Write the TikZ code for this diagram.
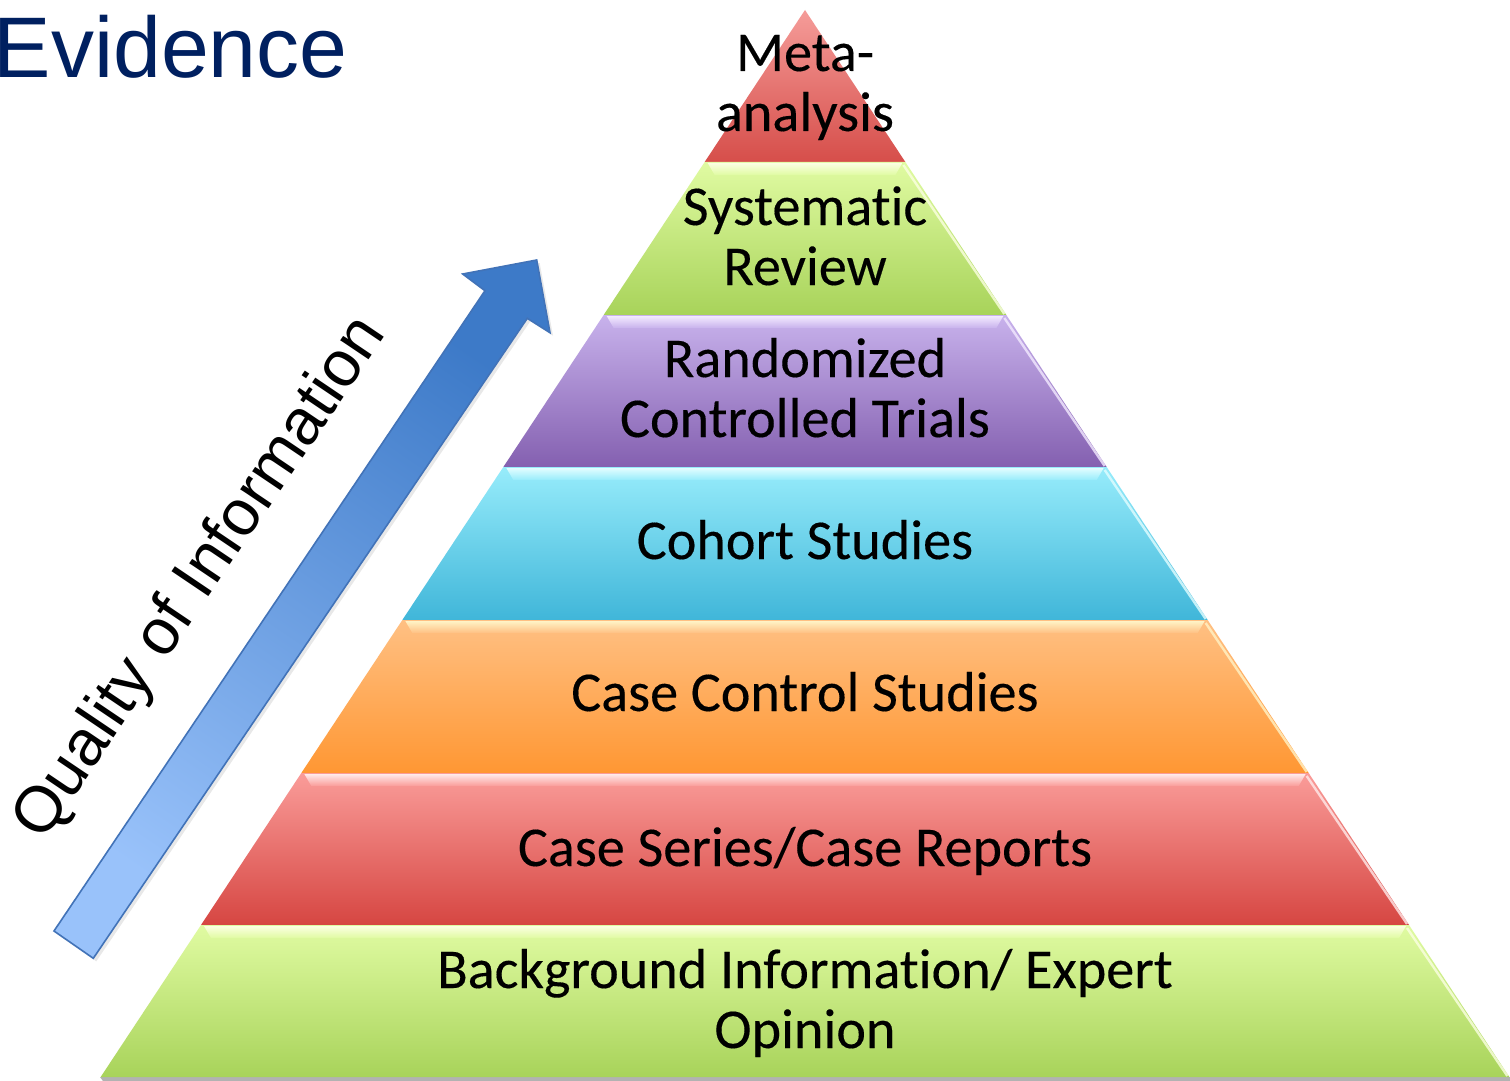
\documentclass[tikz,border=0pt]{standalone}
\usepackage{fontspec}
\setmainfont{Carlito}[Ligatures=CommonOff,FakeBold=0.25]
\newfontfamily\arialf{Liberation Sans}
\usetikzlibrary{shadows}
\definecolor{evblue}{HTML}{002060}
\definecolor{metaT}{HTML}{F59C99}
\definecolor{metaB}{HTML}{D64E4A}
\definecolor{grnT}{HTML}{E0FBA2}
\definecolor{grnB}{HTML}{A8D35A}
\definecolor{grnH}{HTML}{FBFFE2}
\definecolor{purT}{HTML}{C8B2EC}
\definecolor{purB}{HTML}{8460B0}
\definecolor{purH}{HTML}{F3EAFF}
\definecolor{cyaT}{HTML}{97ECFB}
\definecolor{cyaB}{HTML}{40B6D9}
\definecolor{cyaH}{HTML}{E2FDFF}
\definecolor{oraT}{HTML}{FFC083}
\definecolor{oraB}{HTML}{FF9733}
\definecolor{oraH}{HTML}{FFF3C6}
\definecolor{redT}{HTML}{FA9C99}
\definecolor{redB}{HTML}{D64642}
\definecolor{redH}{HTML}{FFEAEA}
\definecolor{arrT}{HTML}{3D7AC8}
\definecolor{arrB}{HTML}{99C2FA}
\definecolor{arrL}{HTML}{4273B8}
\newcommand\pyrlayer[6]{%
 \pgfmathsetmacro\xlt{805-(#1-10)*0.66011}%
 \pgfmathsetmacro\xrt{805+(#1-10)*0.66011}%
 \pgfmathsetmacro\xlb{805-(#2-10)*0.66011}%
 \pgfmathsetmacro\xrb{805+(#2-10)*0.66011}%
 \shade[top color=#3,bottom color=#4] (\xlt,#1) -- (\xrt,#1) -- (\xrb,#2) -- (\xlb,#2) -- cycle;
 \ifx#61
 \shade[top color=#5,bottom color=#3] (\xlt+3,#1+1) -- (\xrt-3,#1+1) -- (\xrt-10,#1+13) -- (\xlt+10,#1+13) -- cycle;
 \draw[#5,line width=1.2pt,opacity=0.8] (\xrt-2,#1+3) -- (\xrb-2,#2-1);
 \fi
}
\begin{document}
\begin{tikzpicture}[x=0.5pt,y=-0.5pt,
  layertext/.style={font=\fontsize{28.1}{30}\selectfont, anchor=base, inner sep=0pt, text=black}]
\useasboundingbox (0,0) rectangle (1510,1081);
\fill[white] (0,0) rectangle (1510,1081);

% shadow under pyramid base
\fill[black!30] (100,1077) -- (1510,1077) -- (1510,1081) -- (103,1081) -- cycle;

% pyramid layers
\pyrlayer{10}{162}{metaT}{metaB}{white}{0}
\pyrlayer{162}{315}{grnT}{grnB}{grnH}{1}
\pyrlayer{315}{467}{purT}{purB}{purH}{1}
\pyrlayer{467}{620}{cyaT}{cyaB}{cyaH}{1}
\pyrlayer{620}{773}{oraT}{oraB}{oraH}{1}
\pyrlayer{773}{925}{redT}{redB}{redH}{1}
\pyrlayer{925}{1077}{grnT}{grnB}{grnH}{1}

% layer texts
\node[layertext] (meta1) at (805,71) {Meta-};
\node[layertext] (meta2) at (805,131) {analysis};
\node[layertext] (sys1) at (805,225) {Systematic};
\node[layertext] (sys2) at (805,285) {Review};
\node[layertext] (rct1) at (805,377) {Randomized};
\node[layertext] (rct2) at (805,437) {Controlled Trials};
\node[layertext] (coh) at (805,559) {Cohort Studies};
\node[layertext] (cc) at (805,711) {Case Control Studies};
\node[layertext] (cs) at (805,866) {Case Series/Case Reports};
\node[layertext] (bg1) at (805,988) {Background Information/ Expert};
\node[layertext] (bg2) at (805,1048) {Opinion};

% arrow
\shade[top color=arrT, bottom color=arrB, shading angle=-34,
  draw=arrL, line width=0.8pt, line join=miter,
  drop shadow={shadow xshift=1.5pt, shadow yshift=-1.5pt, opacity=0.18}]
  (54,931) -- (485,290.7) -- (462.7,274) -- (536.7,260) -- (550,332.7) -- (527.3,318.3) -- (93.3,958.3) -- cycle;

% titles
\node[anchor=base west, inner sep=0pt, text=evblue, font=\arialf\fontsize{43}{48}\selectfont] (title) at (-6.5,78) {Evidence};
\node[inner sep=0pt, rotate=56, font=\arialf\fontsize{32.3}{38}\selectfont] (quality) at (201,579) {Quality of Information};
\end{tikzpicture}
\end{document}
